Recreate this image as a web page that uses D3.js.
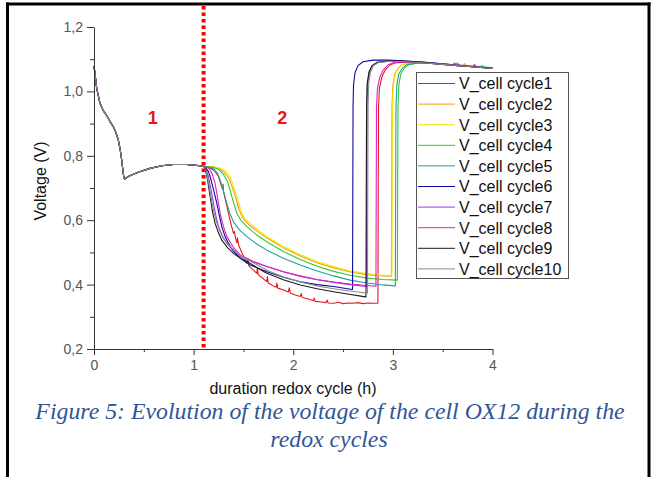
<!DOCTYPE html>
<html>
<head>
<meta charset="utf-8">
<script src="https://cdn.jsdelivr.net/npm/d3@7"></script>
<style>
  html, body { margin: 0; padding: 0; background: #fff; }
  svg { display: block; }
</style>
</head>
<body>
<svg id="chart" width="652" height="477"></svg>
<script>
// ---------------- DATA ----------------
const seriesNames = ["V_cell cycle1","V_cell cycle2","V_cell cycle3","V_cell cycle4","V_cell cycle5",
                     "V_cell cycle6","V_cell cycle7","V_cell cycle8","V_cell cycle9","V_cell cycle10"];
const seriesColors = ["#e3191c","#f5a000","#f2e600","#2ecc2e","#1fa0a0",
                      "#0a0aa0","#9b35f0","#e020c0","#1a1a1a","#8a8a8a"];

const xTicks = [0, 1, 2, 3, 4];
const xMinorTicks = [0.5, 1.5, 2.5, 3.5];
const yTicks = [0.2, 0.4, 0.6, 0.8, 1.0, 1.2];
const yMinorTicks = [0.3, 0.5, 0.7, 0.9, 1.1];
const redoxBoundary = 1.1;
const regionLabels = [{t: 0.59, text: "1"}, {t: 1.89, text: "2"}];

// shared beginning of every cycle (region 1): [hours, volts]
const commonStart = [[0,1.078],[0.01,1.055],[0.027,1.01],[0.06,0.963],[0.09,0.942],[0.127,0.925],[0.16,0.907],
  [0.194,0.89],[0.22,0.872],[0.244,0.849],[0.265,0.815],[0.278,0.787],[0.29,0.755],[0.30,0.731],[0.31,0.728],
  [0.33,0.733],[0.36,0.738],[0.45,0.750],[0.563,0.761],[0.68,0.769],[0.797,0.773],[0.93,0.773],[1.0,0.771],
  [1.065,0.769],[1.1,0.767]];

const cycle1 = [[1.15,0.764],[1.2,0.756],[1.23,0.745],[1.25,0.735],[1.27,0.715],[1.29,0.697],[1.295,0.712],[1.30,0.689],
  [1.325,0.655],[1.35,0.621],[1.375,0.588],[1.40,0.559],[1.41,0.565],[1.42,0.545],[1.435,0.53],[1.44,0.545],[1.451,0.523],
  [1.49,0.495],[1.534,0.466],[1.545,0.48],[1.555,0.458],[1.6,0.445],[1.635,0.435],[1.64,0.452],[1.65,0.43],[1.7,0.418],
  [1.735,0.409],[1.74,0.425],[1.75,0.405],[1.8,0.396],[1.83,0.392],[1.835,0.405],[1.845,0.389],[1.903,0.383],[1.95,0.377],
  [1.96,0.39],[1.97,0.374],[2.02,0.368],[2.07,0.363],[2.08,0.372],[2.09,0.36],[2.15,0.355],[2.2,0.35],[2.21,0.358],
  [2.22,0.348],[2.28,0.346],[2.33,0.344],[2.34,0.352],[2.35,0.343],[2.405,0.342],[2.45,0.345],[2.5,0.341],[2.55,0.343],
  [2.6,0.342],[2.65,0.344],[2.7,0.341],[2.75,0.343],[2.8,0.342],[2.845,0.342],
  [2.85,0.342],[2.853,0.7],[2.856,0.95],[2.865,1.01],[2.89,1.045],[2.92,1.065],[2.97,1.082],[3.02,1.088],[3.1,1.091],
  [3.3,1.089],[3.5,1.084],[3.6,1.082],[3.62,1.088],[3.64,1.079],[3.7,1.079],[3.8,1.077],[3.82,1.083],[3.84,1.074],
  [3.9,1.074],[4.0,1.071]];

const cycle2 = [[1.2,0.765],[1.26,0.758],[1.31,0.748],[1.355,0.73],[1.39,0.7],[1.425,0.667],[1.45,0.64],[1.475,0.618],
  [1.51,0.6],[1.56,0.585],[1.65,0.563],[1.735,0.545],[1.82,0.529],[1.903,0.514],[2.07,0.489],[2.238,0.468],[2.405,0.452],
  [2.573,0.439],[2.74,0.431],[2.86,0.428],[2.98,0.426],
  [2.985,0.426],[2.988,0.7],[2.991,0.95],[3.0,1.02],[3.02,1.055],[3.055,1.073],[3.09,1.082],[3.15,1.087],[3.3,1.089],
  [3.5,1.085],[3.7,1.08],[3.72,1.086],[3.74,1.078],[3.85,1.075],[3.9,1.08],[3.92,1.073],[4.0,1.072]];

const cycle3 = [[1.2,0.766],[1.266,0.761],[1.32,0.752],[1.367,0.735],[1.4,0.705],[1.434,0.673],[1.46,0.645],[1.484,0.621],
  [1.52,0.603],[1.568,0.59],[1.65,0.568],[1.735,0.549],[1.82,0.533],[1.903,0.518],[2.07,0.493],[2.238,0.472],[2.405,0.456],
  [2.573,0.442],[2.74,0.434],[2.86,0.43],[2.985,0.428],
  [2.99,0.428],[2.993,0.7],[2.996,0.95],[3.005,1.02],[3.025,1.056],[3.06,1.073],[3.09,1.082],[3.15,1.088],[3.3,1.09],
  [3.5,1.085],[3.7,1.08],[3.85,1.076],[4.0,1.073]];

const cycle4 = [[1.2,0.764],[1.25,0.758],[1.3,0.742],[1.333,0.725],[1.36,0.7],[1.384,0.673],[1.41,0.645],[1.434,0.621],
  [1.48,0.598],[1.534,0.58],[1.63,0.555],[1.735,0.533],[1.9,0.503],[2.07,0.478],[2.24,0.457],[2.405,0.441],[2.57,0.429],
  [2.74,0.42],[2.9,0.416],[3.04,0.414],
  [3.045,0.414],[3.048,0.7],[3.051,0.95],[3.06,1.02],[3.08,1.055],[3.12,1.074],[3.16,1.083],[3.25,1.088],[3.4,1.088],
  [3.6,1.083],[3.65,1.088],[3.67,1.081],[3.8,1.078],[4.0,1.074]];

const cycle5 = [[1.15,0.765],[1.2,0.76],[1.235,0.748],[1.266,0.725],[1.3,0.69],[1.333,0.652],[1.365,0.62],[1.40,0.595],
  [1.46,0.57],[1.534,0.549],[1.63,0.527],[1.735,0.507],[1.9,0.482],[2.07,0.461],[2.24,0.442],[2.405,0.427],[2.57,0.414],
  [2.74,0.405],[2.9,0.399],[3.02,0.396],
  [3.025,0.396],[3.028,0.7],[3.031,0.95],[3.04,1.02],[3.06,1.055],[3.1,1.074],[3.14,1.083],[3.25,1.088],[3.4,1.087],
  [3.6,1.082],[3.8,1.077],[4.0,1.073]];

const cycle6 = [[1.13,0.76],[1.15,0.75],[1.166,0.735],[1.2,0.695],[1.233,0.652],[1.26,0.612],[1.283,0.58],[1.315,0.55],
  [1.35,0.528],[1.4,0.503],[1.467,0.482],[1.568,0.461],[1.735,0.44],[1.9,0.423],[2.07,0.409],[2.24,0.4],[2.405,0.394],
  [2.59,0.385],
  [2.595,0.385],[2.598,0.7],[2.6,0.95],[2.605,1.02],[2.62,1.058],[2.65,1.08],[2.7,1.092],[2.8,1.097],[2.95,1.097],
  [3.1,1.095],[3.3,1.091],[3.5,1.086],[3.7,1.08],[3.85,1.076],[4.0,1.072]];

const cycle7 = [[1.125,0.758],[1.149,0.735],[1.175,0.695],[1.199,0.652],[1.225,0.612],[1.25,0.58],[1.29,0.55],
  [1.333,0.528],[1.4,0.505],[1.467,0.487],[1.6,0.47],[1.735,0.456],[1.9,0.44],[2.07,0.425],[2.24,0.415],[2.405,0.407],
  [2.57,0.4],[2.73,0.394],
  [2.735,0.394],[2.738,0.7],[2.741,0.95],[2.747,1.025],[2.765,1.06],[2.795,1.08],[2.845,1.09],[2.95,1.094],[3.1,1.093],
  [3.3,1.09],[3.5,1.085],[3.7,1.08],[3.85,1.076],[4.0,1.072]];

const cycle8 = [[1.15,0.762],[1.18,0.748],[1.2,0.73],[1.216,0.714],[1.24,0.67],[1.266,0.621],[1.3,0.58],[1.333,0.549],
  [1.4,0.515],[1.467,0.492],[1.6,0.472],[1.735,0.456],[1.9,0.44],[2.07,0.427],[2.24,0.416],[2.405,0.408],[2.57,0.402],
  [2.74,0.397],[2.825,0.395],
  [2.83,0.395],[2.833,0.7],[2.836,0.95],[2.845,1.01],[2.87,1.045],[2.9,1.065],[2.95,1.082],[3.0,1.089],[3.1,1.092],
  [3.3,1.089],[3.5,1.084],[3.7,1.079],[3.85,1.075],[4.0,1.071]];

const cycle9 = [[1.12,0.755],[1.14,0.725],[1.166,0.673],[1.19,0.625],[1.216,0.59],[1.25,0.56],[1.283,0.538],[1.34,0.515],
  [1.4,0.497],[1.48,0.48],[1.568,0.466],[1.65,0.45],[1.735,0.435],[1.9,0.415],[2.07,0.399],[2.24,0.387],[2.405,0.378],
  [2.56,0.37],[2.724,0.362],
  [2.73,0.362],[2.733,0.7],[2.736,0.95],[2.742,1.025],[2.76,1.06],[2.79,1.08],[2.84,1.09],[2.95,1.094],[3.1,1.094],
  [3.3,1.09],[3.5,1.084],[3.7,1.079],[3.85,1.075],[4.0,1.071]];

const cycle10 = [[1.125,0.752],[1.15,0.718],[1.175,0.67],[1.2,0.63],[1.23,0.595],[1.26,0.567],[1.3,0.543],[1.36,0.52],
  [1.42,0.503],[1.5,0.485],[1.6,0.468],[1.75,0.442],[1.9,0.424],[2.07,0.408],[2.24,0.396],[2.405,0.387],[2.56,0.38],
  [2.74,0.374],
  [2.745,0.374],[2.748,0.7],[2.751,0.95],[2.757,1.025],[2.775,1.06],[2.805,1.08],[2.855,1.09],[2.95,1.093],[3.1,1.093],
  [3.3,1.089],[3.5,1.084],[3.7,1.079],[3.85,1.075],[4.0,1.071]];

const cycleData = [cycle1, cycle2, cycle3, cycle4, cycle5, cycle6, cycle7, cycle8, cycle9, cycle10];

// ---------------- DRAW ----------------
const svg = d3.select("#chart");
const FONT = "'Liberation Sans', Arial, sans-serif";

// page frame
svg.append("line").attr("x1", 7.5).attr("x2", 7.5).attr("y1", 2.5).attr("y2", 477).attr("stroke", "#000").attr("stroke-width", 3);
svg.append("line").attr("x1", 649).attr("x2", 649).attr("y1", 2.5).attr("y2", 477).attr("stroke", "#000").attr("stroke-width", 3);
svg.append("line").attr("x1", 6).attr("x2", 650.5).attr("y1", 4).attr("y2", 4).attr("stroke", "#000").attr("stroke-width", 3);

const x = d3.scaleLinear().domain([0, 4]).range([94, 492.5]);
const y = d3.scaleLinear().domain([0.2, 1.2]).range([349, 27]);

const commaFmt = d => d3.format(".1f")(d).replace(".", ",");

// curves
const line = d3.line().x(d => x(d[0])).y(d => y(d[1]));
const gCurves = svg.append("g");
cycleData.forEach((c, i) => {
  gCurves.append("path")
    .datum(commonStart.concat(c))
    .attr("d", line)
    .attr("fill", "none")
    .attr("stroke", seriesColors[i])
    .attr("stroke-width", 1.1)
    .attr("stroke-linejoin", "round");
});

// axes
const axisColor = "#333";
const labelColor = "#555";
const yAxis = svg.append("g").attr("transform", `translate(${x(0)},0)`)
  .call(d3.axisLeft(y).tickValues(yTicks).tickFormat(commaFmt).tickSize(7).tickPadding(4).tickSizeOuter(0));
const yMinor = svg.append("g").attr("transform", `translate(${x(0)},0)`)
  .call(d3.axisLeft(y).tickValues(yMinorTicks).tickFormat("").tickSize(4).tickSizeOuter(0));
const xAxis = svg.append("g").attr("transform", `translate(0,${y(0.2)})`)
  .call(d3.axisBottom(x).tickValues(xTicks).tickFormat(d3.format("d")).tickSize(6).tickPadding(5).tickSizeOuter(0));
const xMinor = svg.append("g").attr("transform", `translate(0,${y(0.2)})`)
  .call(d3.axisBottom(x).tickValues(xMinorTicks).tickFormat("").tickSize(3).tickSizeOuter(0));
[yAxis, yMinor, xAxis, xMinor].forEach(g => {
  g.selectAll("path, line").attr("stroke", axisColor).attr("stroke-width", 1);
  g.selectAll("text").attr("fill", labelColor).style("font-family", FONT).style("font-size", "14px");
});
yMinor.select("path").remove();
xMinor.select("path").remove();

// red dotted boundary
svg.append("line")
  .attr("x1", x(redoxBoundary)).attr("x2", x(redoxBoundary))
  .attr("y1", 6).attr("y2", y(0.2))
  .attr("stroke", "#ff0000").attr("stroke-width", 4).attr("stroke-dasharray", "3.5,3");

// region labels
regionLabels.forEach(r => {
  svg.append("text").attr("x", x(r.t)).attr("y", 124)
    .attr("text-anchor", "middle").attr("fill", "#e8141b")
    .style("font-family", FONT).style("font-size", "18px").style("font-weight", "bold")
    .text(r.text);
});

// axis titles
svg.append("text").attr("x", 293).attr("y", 394).attr("text-anchor", "middle")
  .attr("fill", "#111").style("font-family", FONT).style("font-size", "16px")
  .text("duration redox cycle (h)");
svg.append("text").attr("transform", "translate(46,181) rotate(-90)").attr("text-anchor", "middle")
  .attr("fill", "#111").style("font-family", FONT).style("font-size", "16px")
  .text("Voltage (V)");

// legend
const lg = svg.append("g");
lg.append("rect").attr("x", 416.5).attr("y", 72.5).attr("width", 152).attr("height", 206)
  .attr("fill", "#fff").attr("stroke", "#555").attr("stroke-width", 1);
seriesNames.forEach((n, i) => {
  const cy = 83.5 + i * 20.6;
  lg.append("line").attr("x1", 418).attr("x2", 455).attr("y1", cy).attr("y2", cy)
    .attr("stroke", seriesColors[i]).attr("stroke-width", 1);
  lg.append("text").attr("x", 459).attr("y", cy + 5.8).attr("fill", "#111")
    .style("font-family", FONT).style("font-size", "16px").text(n);
});

// caption
const capFont = "'Liberation Serif', 'Times New Roman', serif";
svg.append("text").attr("x", 330).attr("y", 419).attr("text-anchor", "middle")
  .attr("fill", "#2f5597").style("font-family", capFont).style("font-style", "italic").style("font-size", "23.8px")
  .text("Figure 5: Evolution of the voltage of the cell OX12 during the");
svg.append("text").attr("x", 329).attr("y", 447).attr("text-anchor", "middle")
  .attr("fill", "#2f5597").style("font-family", capFont).style("font-style", "italic").style("font-size", "23.8px")
  .text("redox cycles");
</script>
</body>
</html>
